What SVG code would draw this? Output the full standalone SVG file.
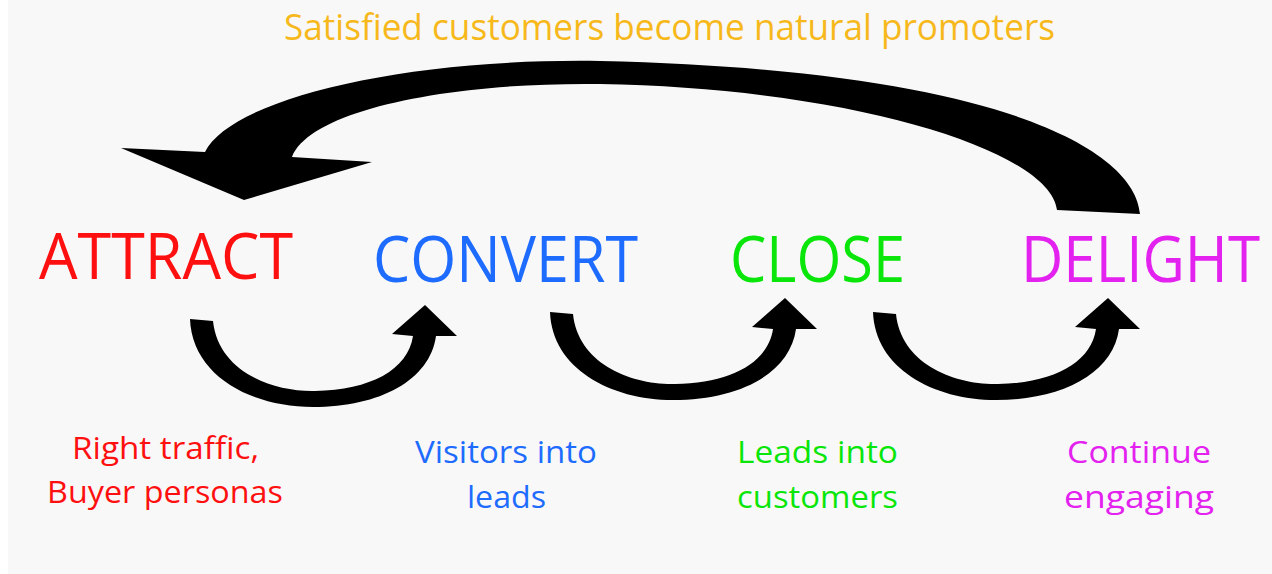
<svg xmlns="http://www.w3.org/2000/svg" width="1272" height="574" viewBox="0 0 1272 574">
<defs>
<style>
text{font-family:"Open Sans","Noto Sans","Liberation Sans",sans-serif;}
.big{font-size:64px;}
.sub{font-size:31px;}
.title{font-size:36px;fill:#f7b81c;}
.arr{fill:#000;}
.red{fill:#ff1010;}
.blue{fill:#1e6cff;}
.green{fill:#0ae60a;}
.mag{fill:#e422f0;}
</style>
<path id="small" d="M190,319 L213,321 C218,370 270,392 315,391 C370,390 408,370 413,336 L392,334 L425,305 L457,336 L436,336 C430,380 380,407 313,407 C250,407 192,375 190,319 Z"/>
</defs>
<rect x="8" y="0" width="1264" height="574" fill="#f8f8f8"/>
<g id="title"><text class="title" x="284" y="40" textLength="771" lengthAdjust="spacingAndGlyphs">Satisfied customers become natural promoters</text></g>
<g id="connectors">
<path class="arr" d="M1140,214 C1135,150 1000,70 600,61 C400,58 230,100 205,152 L121,148 L244,200 L372,162 L292,157 C310,110 450,82 600,84 C850,88 1050,150 1057,210 Z"/>
<use href="#small" class="arr"/>
<use href="#small" class="arr" transform="translate(360,-7)"/>
<use href="#small" class="arr" transform="translate(683,-7)"/>
</g>
<g id="attract">
<text class="big red" x="39" y="279" textLength="254" lengthAdjust="spacingAndGlyphs">ATTRACT</text>
<text class="sub red" x="72" y="459" textLength="187" lengthAdjust="spacingAndGlyphs">Right traffic,</text>
<text class="sub red" x="47" y="503" textLength="236" lengthAdjust="spacingAndGlyphs">Buyer personas</text>
</g>
<g id="convert">
<text class="big blue" x="373" y="282" textLength="265" lengthAdjust="spacingAndGlyphs">CONVERT</text>
<text class="sub blue" x="415" y="463" textLength="182" lengthAdjust="spacingAndGlyphs">Visitors into</text>
<text class="sub blue" x="467" y="508" textLength="79" lengthAdjust="spacingAndGlyphs">leads</text>
</g>
<g id="close">
<text class="big green" x="730" y="282" textLength="175" lengthAdjust="spacingAndGlyphs">CLOSE</text>
<text class="sub green" x="737" y="463" textLength="161" lengthAdjust="spacingAndGlyphs">Leads into</text>
<text class="sub green" x="737" y="508" textLength="161" lengthAdjust="spacingAndGlyphs">customers</text>
</g>
<g id="delight">
<text class="big mag" x="1021" y="282" textLength="239" lengthAdjust="spacingAndGlyphs">DELIGHT</text>
<text class="sub mag" x="1067" y="463" textLength="144" lengthAdjust="spacingAndGlyphs">Continue</text>
<text class="sub mag" x="1064" y="508" textLength="150" lengthAdjust="spacingAndGlyphs">engaging</text>
</g>
</svg>
